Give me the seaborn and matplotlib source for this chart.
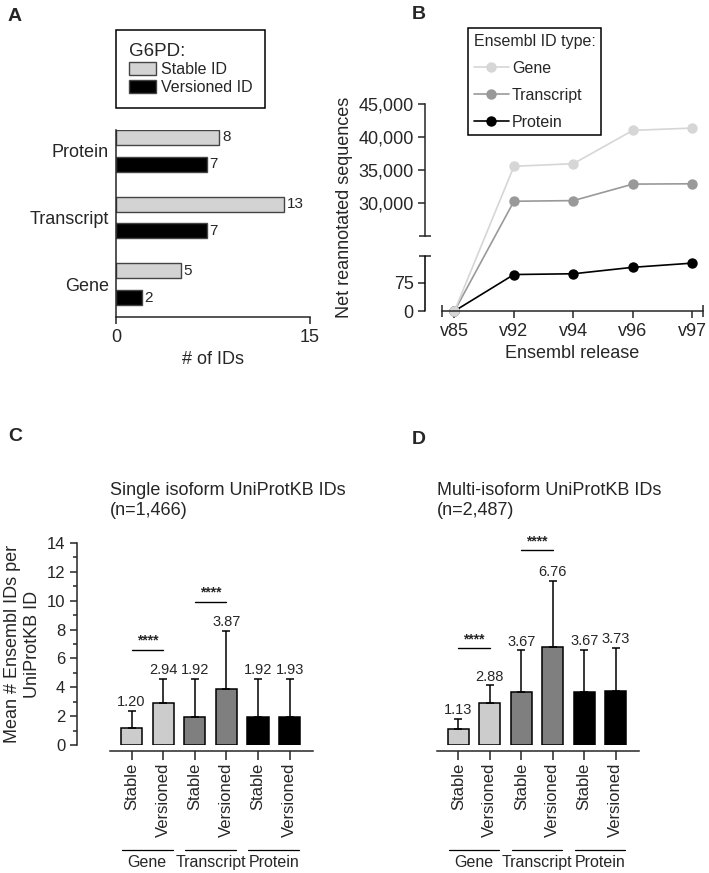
import numpy as np
import pandas as pd
import seaborn as sns
import matplotlib.pyplot as plt

sns.set_style('ticks')
plt.rcParams['font.family'] = ['Liberation Sans', 'DejaVu Sans']
plt.rcParams['axes.linewidth'] = 1.1
plt.rcParams['xtick.major.width'] = 1.1
plt.rcParams['ytick.major.width'] = 1.1
plt.rcParams['ytick.minor.width'] = 1.1
plt.rcParams['xtick.minor.width'] = 1.1

# ---- data ----
# A: G6PD ids
id_levels = ['Protein', 'Transcript', 'Gene']
g6pd_stable = [8, 13, 5]
g6pd_versioned = [7, 7, 2]

# B: net reannotated sequences per release
releases = ['v85', 'v92', 'v94', 'v96', 'v97']
gene_counts = [0, 35550, 35950, 41000, 41350]
transcript_counts = [0, 30250, 30350, 32850, 32900]
protein_counts = [0, 96, 98, 115, 126]

# C / D: mean # Ensembl IDs per UniProtKB ID (mean, upper SD)
bar_levels = ['Gene', 'Gene', 'Transcript', 'Transcript', 'Protein', 'Protein']
bar_types = ['Stable', 'Versioned', 'Stable', 'Versioned', 'Stable', 'Versioned']
single_mean = [1.20, 2.94, 1.92, 3.87, 1.92, 1.93]
single_sd = [1.16, 1.64, 2.68, 4.05, 2.68, 2.67]
multi_mean = [1.13, 2.88, 3.67, 6.76, 3.67, 3.73]
multi_sd = [0.67, 1.26, 2.89, 4.64, 2.91, 3.01]
# significance brackets (bar i, bar j, height)
single_sig = [(0, 1, 6.6), (2, 3, 9.93)]
multi_sig = [(0, 1, 6.7), (2, 3, 13.5)]

W, H = 709, 873
fig = plt.figure(figsize=(W / 100, H / 100), dpi=100)


def add_ax(left, top, right, bottom):
    return fig.add_axes([left / W, 1 - bottom / H, (right - left) / W, (bottom - top) / H])


# ---------------- panel A ----------------
axA = add_ax(116, 130, 310, 317)
dfA = pd.DataFrame({'level': id_levels + id_levels,
                    'count': g6pd_stable + g6pd_versioned,
                    'id': ['Stable ID'] * 3 + ['Versioned ID'] * 3})
sns.barplot(data=dfA, y='level', x='count', hue='id', order=id_levels, orient='h',
            palette=['#d3d3d3', 'black'], width=0.8, gap=0.44, errorbar=None,
            edgecolor='#444444', linewidth=1, ax=axA)
for c in axA.containers:
    axA.bar_label(c, padding=2, fontsize=11)
axA.set_xlim(0, 15)
axA.set_xticks([0, 15])
axA.set_ylim(2.49, -0.31)
axA.set_xlabel('# of IDs', fontsize=13)
axA.set_ylabel('')
axA.tick_params(axis='y', length=0, labelsize=13, pad=5)
axA.tick_params(axis='x', labelsize=13, length=5)
sns.despine(ax=axA)
h, l = axA.get_legend_handles_labels()
axA.legend(h, l, title='G6PD:', loc='upper left', bbox_to_anchor=(116 / W, 1 - 30 / H),
           bbox_transform=fig.transFigure, borderaxespad=0, fancybox=False,
           edgecolor='black', framealpha=1, fontsize=11.5, title_fontsize=13.5,
           alignment='left', handlelength=1.7, handleheight=0.9, borderpad=0.8,
           labelspacing=0.15, handletextpad=0.3)
axA.get_legend().get_frame().set_linewidth(1.1)

# ---------------- panel B ----------------
axB = add_ax(442, 104, 703, 311)
brk = [0, 145, 25000, 45000]
brk_px = [0, 165, 225, 620]
axB.set_yscale('function', functions=(lambda y: np.interp(y, brk, brk_px),
                                      lambda p: np.interp(p, brk_px, brk)))
dfB = pd.DataFrame({'release': releases * 3,
                    'count': gene_counts + transcript_counts + protein_counts,
                    'type': ['Gene'] * 5 + ['Transcript'] * 5 + ['Protein'] * 5})
sns.lineplot(data=dfB, x='release', y='count', hue='type',
             hue_order=['Protein', 'Transcript', 'Gene'],
             palette=['black', '#999999', '#d6d6d6'], marker='o', markersize=7.5,
             markeredgewidth=0, linewidth=1.2, clip_on=False, ax=axB)
axB.set_xlim(-0.21, 4.18)
axB.set_ylim(0, 45000)
axB.spines['left'].set_position(('outward', 12))
axB.spines['left'].set_bounds(25000, 45000)
axB.plot([0, 0], [0, 145], transform=axB.spines['left'].get_spine_transform(),
         color='black', lw=1.1, clip_on=False)
axB.set_yticks([0, 75, 30000, 35000, 40000, 45000])
axB.set_yticklabels(['0', '75', '30,000', '35,000', '40,000', '45,000'])
axB.set_yticks([145, 25000], minor=True)
axB.set_xticks([-0.21, 4.18], minor=True)
axB.tick_params(axis='both', which='major', labelsize=13, length=5)
axB.tick_params(axis='both', which='minor', direction='inout', length=8)
axB.set_xlabel('Ensembl release', fontsize=13)
axB.set_ylabel('Net reannotated sequences', fontsize=13)
sns.despine(ax=axB)
h, l = axB.get_legend_handles_labels()
order = [l.index(t) for t in ['Gene', 'Transcript', 'Protein']]
axB.legend([h[i] for i in order], [l[i] for i in order], title='Ensembl ID type:',
           loc='upper left', bbox_to_anchor=(468 / W, 1 - 28 / H), bbox_transform=fig.transFigure,
           borderaxespad=0, fancybox=False, edgecolor='black', framealpha=1, fontsize=11.5,
           title_fontsize=11.5, alignment='left', handlelength=2.2, labelspacing=0.75,
           borderpad=0.35, handletextpad=0.2)
axB.get_legend().get_frame().set_linewidth(1.1)


# ---------------- panels C / D ----------------
def iso_panel(ax, means, sds, sig, show_y):
    dfc = pd.DataFrame({'bar': [f'{a} {b}' for a, b in zip(bar_levels, bar_types)],
                        'mean': means, 'level': bar_levels})
    sns.barplot(data=dfc, x='bar', y='mean', hue='level', dodge=False, width=0.67,
                palette=['#cccccc', '#7f7f7f', 'black'], edgecolor='black', linewidth=1.1,
                errorbar=None, legend=False, ax=ax)
    xs = np.arange(len(means))
    ax.errorbar(xs, means, yerr=[np.zeros(len(sds)), sds], fmt='none', ecolor='black',
                elinewidth=1.1, capsize=3, capthick=1.1)
    for x, m, s in zip(xs, means, sds):
        ax.text(x, m + s + 0.12, f'{m:.2f}', ha='center', va='bottom', fontsize=10.5)
    for i, j, y in sig:
        ax.plot([i, j], [y, y], color='black', lw=1, clip_on=False)
        ax.text((i + j) / 2, y + 0.15, '****', ha='center', va='bottom', fontsize=10,
                fontweight='bold')
    ax.spines['bottom'].set_position(('outward', 4.3))
    if show_y:
        ax.spines['left'].set_position(('outward', 23.8))
    ax.set_xlim(-0.68, 5.74)
    ax.set_ylim(0, 14)
    ax.set_xticks(xs)
    ax.set_xticklabels(bar_types, rotation=90, fontsize=12)
    ax.tick_params(axis='x', length=6.5, pad=2)
    ax.set_xlabel('')
    for g, name in enumerate(['Gene', 'Transcript', 'Protein']):
        cx = 2 * g + 0.5
        ax.plot([cx - 0.8, cx + 0.8], [-0.52, -0.52], color='black', lw=0.9,
                transform=ax.get_xaxis_transform(), clip_on=False)
        ax.text(cx, -0.58, name, ha='center', va='center', fontsize=11.5,
                transform=ax.get_xaxis_transform())
    if show_y:
        ax.set_yticks(np.arange(0, 15, 2))
        ax.set_yticks(np.arange(0, 15, 1), minor=True)
        ax.tick_params(axis='y', which='major', length=5, labelsize=12)
        ax.tick_params(axis='y', which='minor', length=3)
        ax.set_ylabel('Mean # Ensembl IDs per\nUniProtKB ID', fontsize=13)
        sns.despine(ax=ax)
    else:
        ax.set_ylabel('')
        ax.set_yticks([])
        sns.despine(ax=ax, left=True)


axC = add_ax(110, 543, 313, 745)
iso_panel(axC, single_mean, single_sd, single_sig, True)
axD = add_ax(437, 543, 639, 745)
iso_panel(axD, multi_mean, multi_sd, multi_sig, False)

fig.text(110 / W, 1 - 482 / H, 'Single isoform UniProtKB IDs\n(n=1,466)', ha='left', va='top',
         fontsize=13, linespacing=1.25)
fig.text(437 / W, 1 - 482 / H, 'Multi-isoform UniProtKB IDs\n(n=2,487)', ha='left', va='top',
         fontsize=13, linespacing=1.25)

# panel letters
for letter, x, y in [('A', 8, 8), ('B', 412, 6), ('C', 8, 428), ('D', 412, 431)]:
    fig.text(x / W, 1 - y / H, letter, ha='left', va='top', fontsize=14, fontweight='bold')

fig.savefig('out.png', dpi=100)
